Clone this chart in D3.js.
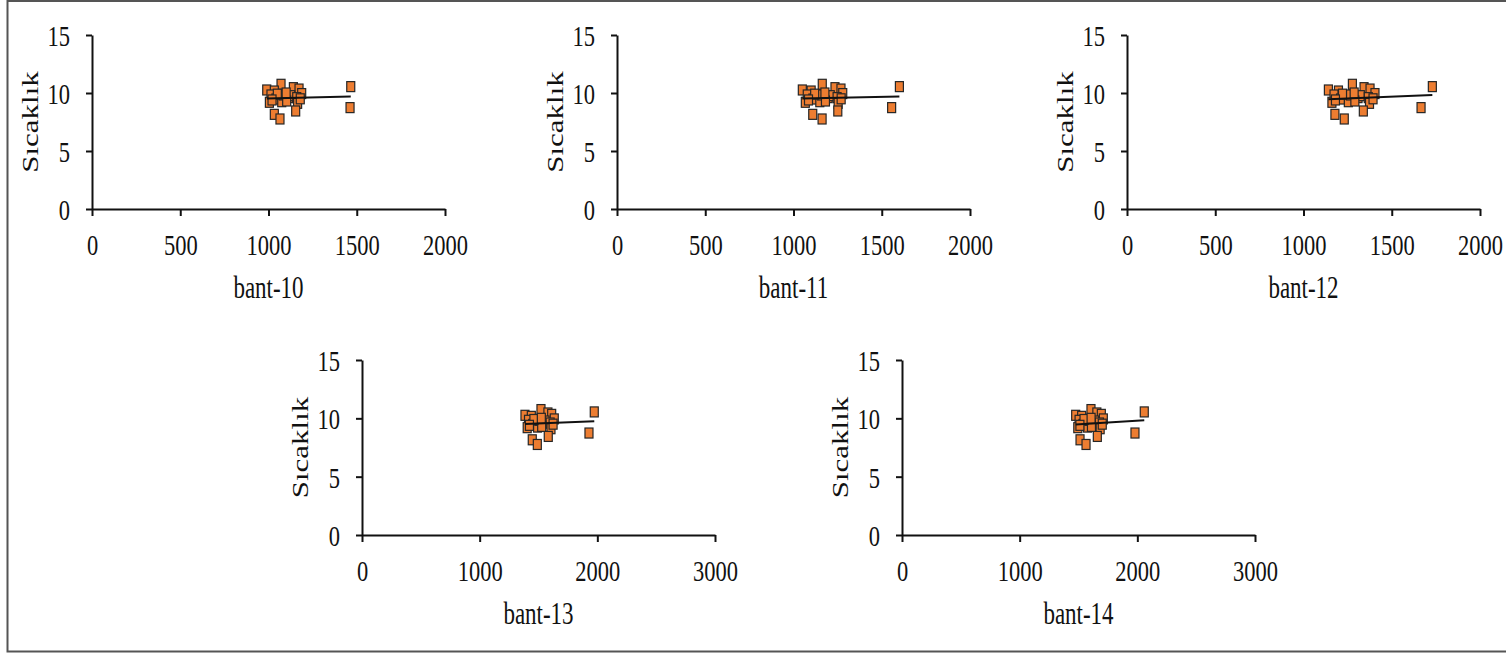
<!DOCTYPE html>
<html>
<head>
<meta charset="utf-8">
<script src="https://cdn.jsdelivr.net/npm/d3@7"></script>
<style>
  html, body { margin: 0; padding: 0; background: #fff; }
  svg { display: block; }
  text { font-family: "Liberation Serif", "Times New Roman", serif; fill: #111; }
</style>
</head>
<body>
<svg id="chart" width="1506" height="653"></svg>
<script>
// Sıcaklık (temperature) observations, shared by every band panel
const sicaklik = [10.26, 10.75, 10.46, 10.34, 9.95, 10.17, 9.83, 9.48, 9.25, 9.2,
                  9.83, 9.6, 9.77, 9.6, 9.11, 8.45, 8.16, 7.76, 9.31, 10.55,
                  8.74, 9.9, 9.5, 10.0, 9.4];

// Band values paired with each temperature
const bant10 = [990, 1071, 1141, 1173, 1188, 1033, 1014, 1042, 1075, 1005,
                1084, 1116, 1126, 1160, 1165, 1154, 1033, 1065, 1103, 1466,
                1462, 1050, 1180, 1100, 1020];
const bant11 = [1050, 1163, 1235, 1269, 1279, 1100, 1078, 1110, 1149, 1067,
                1159, 1196, 1208, 1247, 1253, 1251, 1109, 1162, 1181, 1600,
                1556, 1120, 1270, 1178, 1085];
const bant12 = [1141, 1277, 1343, 1377, 1405, 1198, 1173, 1210, 1254, 1161,
                1266, 1309, 1322, 1367, 1374, 1339, 1178, 1231, 1291, 1730,
                1666, 1221, 1394, 1287, 1181];
const bant13 = [1385, 1521, 1580, 1612, 1634, 1439, 1415, 1451, 1492, 1404,
                1503, 1544, 1556, 1599, 1606, 1583, 1447, 1490, 1527, 1974,
                1929, 1461, 1624, 1524, 1423];
const bant14 = [1476, 1606, 1656, 1694, 1711, 1527, 1505, 1538, 1577, 1494,
                1588, 1626, 1638, 1678, 1684, 1660, 1513, 1564, 1610, 2059,
                1980, 1547, 1702, 1607, 1512];

// Axis ticks
const yTicks = [0, 5, 10, 15];
const xTicks2000 = [0, 500, 1000, 1500, 2000];
const xTicks3000 = [0, 1000, 2000, 3000];

const yTitle = "Sıcaklık";

// Panel placement on the page
const panels = [
  { title: "bant-10", values: bant10, xMax: 2000, ticks: xTicks2000, left: 92,  top: 35,  width: 353, height: 174 },
  { title: "bant-11", values: bant11, xMax: 2000, ticks: xTicks2000, left: 617, top: 35,  width: 353, height: 174 },
  { title: "bant-12", values: bant12, xMax: 2000, ticks: xTicks2000, left: 1127, top: 35, width: 353, height: 174 },
  { title: "bant-13", values: bant13, xMax: 3000, ticks: xTicks3000, left: 362, top: 360, width: 353, height: 175 },
  { title: "bant-14", values: bant14, xMax: 3000, ticks: xTicks3000, left: 902, top: 360, width: 353, height: 175 }
];

const svg = d3.select("#chart");
const FONT = 22.5;
const STRETCH = 1.35;   // glyphs are drawn taller than wide

// Outer frame
svg.append("rect")
  .attr("x", 7.5).attr("y", 1)
  .attr("width", 1510).attr("height", 650.5)
  .attr("fill", "none").attr("stroke", "#555").attr("stroke-width", 2);

function linearFit(xs, ys) {
  const n = xs.length;
  const mx = d3.mean(xs), my = d3.mean(ys);
  let sxy = 0, sxx = 0;
  for (let i = 0; i < n; i++) {
    sxy += (xs[i] - mx) * (ys[i] - my);
    sxx += (xs[i] - mx) * (xs[i] - mx);
  }
  const b = sxy / sxx;
  return { a: my - b * mx, b };
}

panels.forEach(p => {
  const x = d3.scaleLinear().domain([0, p.xMax]).range([p.left, p.left + p.width]);
  const y = d3.scaleLinear().domain([0, 15]).range([p.top + p.height, p.top]);
  const g = svg.append("g");
  const bottom = p.top + p.height;

  // Y axis
  const ya = g.append("g")
    .attr("transform", `translate(${p.left},0)`)
    .call(d3.axisLeft(y).tickValues(yTicks).tickSize(6).tickSizeOuter(0).tickFormat(d3.format("d")));
  ya.select(".domain").attr("stroke", "#111").attr("stroke-width", 2);
  ya.selectAll(".tick line").attr("stroke", "#111").attr("stroke-width", 2);
  ya.selectAll(".tick text")
    .attr("x", null).attr("dy", null)
    .attr("transform", `translate(-22,0) scale(1,${STRETCH})`)
    .attr("dy", "0.34em")
    .style("font-family", "Liberation Serif")
    .style("font-size", FONT + "px")
    .attr("fill", "#111")
    .attr("text-anchor", "end");

  // X axis
  const xa = g.append("g")
    .attr("transform", `translate(0,${bottom})`)
    .call(d3.axisBottom(x).tickValues(p.ticks).tickSize(7).tickSizeOuter(0).tickFormat(d3.format("d")));
  xa.select(".domain").attr("stroke", "#111").attr("stroke-width", 2);
  xa.selectAll(".tick line").attr("stroke", "#111").attr("stroke-width", 2);
  xa.selectAll(".tick text")
    .attr("y", null).attr("dy", null)
    .attr("transform", `translate(0,36) scale(1,${STRETCH})`)
    .attr("dy", "0.34em")
    .style("font-family", "Liberation Serif")
    .style("font-size", FONT + "px")
    .attr("fill", "#111");

  // Axis titles
  g.append("text")
    .attr("transform", `translate(${(p.left + p.left + p.width) / 2},${bottom + 78}) scale(1,${STRETCH})`)
    .attr("text-anchor", "middle")
    .attr("dy", "0.34em")
    .style("font-size", (FONT + 0.5) + "px")
    .text(p.title);

  g.append("text")
    .attr("transform", `translate(${p.left - 62},${(p.top + bottom) / 2}) scale(1,${STRETCH}) rotate(-90)`)
    .attr("text-anchor", "middle")
    .attr("dy", "0.34em")
    .style("font-size", (FONT + 0.5) + "px")
    .text(yTitle);

  // Points
  const pts = p.values.map((v, i) => ({ v, t: sicaklik[i] }));
  g.append("g").selectAll("rect")
    .data(pts)
    .join("rect")
    .attr("x", d => x(d.v) - 4)
    .attr("y", d => y(d.t) - 5)
    .attr("width", 8)
    .attr("height", 10)
    .attr("fill", "#ED7D31")
    .attr("stroke", "#262626")
    .attr("stroke-width", 1.2);

  // Linear trend line
  const fit = linearFit(p.values, sicaklik);
  const [x0, x1] = d3.extent(p.values);
  g.append("line")
    .attr("x1", x(x0)).attr("y1", y(fit.a + fit.b * x0))
    .attr("x2", x(x1)).attr("y2", y(fit.a + fit.b * x1))
    .attr("stroke", "#111")
    .attr("stroke-width", 2);
});
</script>
</body>
</html>
